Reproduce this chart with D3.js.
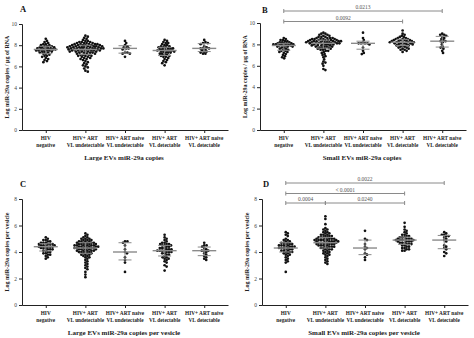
<!DOCTYPE html>
<html>
<head>
<meta charset="utf-8">
<script src="https://cdn.jsdelivr.net/npm/d3@7"></script>
<style>
  body { margin: 0; background: #fff; }
  svg { display: block; font-family: "Liberation Serif", "Times New Roman", serif; }
</style>
</head>
<body>
<svg id="chart" width="474" height="338"></svg>
<script>
// Patient groups (two-line category labels)
const groupLine1 = ["HIV", "HIV+ ART", "HIV+ ART naive", "HIV+ ART", "HIV+ ART naive"];
const groupLine2 = ["negative", "VL undetectable", "VL undetectable", "VL detectable", "VL detectable"];

// Log miR-29a copies / µg of RNA, large EVs (one list per group)
const largeEvCopies = [
  [8.6, 8.4, 8.3, 8.2, 8.1, 8.1, 8.0, 8.0, 7.9, 7.9, 7.9, 7.8, 7.8, 7.8, 7.7, 7.7, 7.7, 7.7, 7.6, 7.6, 7.6, 7.6, 7.5, 7.5, 7.5, 7.5, 7.4, 7.4, 7.4, 7.3, 7.3, 7.2, 7.2, 7.1, 7.0, 7.0, 6.9, 6.8, 6.7, 6.6, 6.5, 6.4],
  [8.9, 8.8, 8.7, 8.6, 8.5, 8.4, 8.4, 8.3, 8.3, 8.3, 8.2, 8.2, 8.2, 8.2, 8.1, 8.1, 8.1, 8.1, 8.1, 8.0, 8.0, 8.0, 8.0, 8.0, 8.0, 7.9, 7.9, 7.9, 7.9, 7.9, 7.9, 7.8, 7.8, 7.8, 7.8, 7.8, 7.8, 7.8, 7.7, 7.7, 7.7, 7.7, 7.7, 7.7, 7.7, 7.6, 7.6, 7.6, 7.6, 7.6, 7.6, 7.5, 7.5, 7.5, 7.5, 7.5, 7.5, 7.4, 7.4, 7.4, 7.4, 7.4, 7.3, 7.3, 7.3, 7.3, 7.2, 7.2, 7.2, 7.1, 7.1, 7.1, 7.0, 7.0, 7.0, 6.9, 6.9, 6.8, 6.8, 6.7, 6.7, 6.6, 6.5, 6.4, 6.3, 6.2, 6.1, 6.0, 5.9, 5.8, 5.6, 5.5],
  [8.4, 8.2, 8.0, 7.9, 7.8, 7.7, 7.7, 7.6, 7.3, 7.3, 7.2, 7.2, 6.9],
  [8.5, 8.4, 8.3, 8.2, 8.2, 8.1, 8.0, 8.0, 7.9, 7.9, 7.8, 7.8, 7.8, 7.7, 7.7, 7.7, 7.6, 7.6, 7.6, 7.5, 7.5, 7.5, 7.5, 7.4, 7.4, 7.4, 7.3, 7.3, 7.3, 7.2, 7.2, 7.1, 7.1, 7.0, 7.0, 6.9, 6.9, 6.8, 6.7, 6.6, 6.5, 6.4, 6.3, 6.1],
  [8.5, 8.3, 8.2, 8.2, 8.1, 7.9, 7.8, 7.7, 7.7, 7.7, 7.6, 7.5, 7.4, 7.4, 7.3, 7.2, 7.2]
];

// Log miR-29a copies / µg of RNA, small EVs
const smallEvCopies = [
  [8.6, 8.5, 8.4, 8.4, 8.3, 8.3, 8.2, 8.2, 8.2, 8.1, 8.1, 8.1, 8.1, 8.0, 8.0, 8.0, 8.0, 8.0, 7.9, 7.9, 7.9, 7.9, 7.8, 7.8, 7.8, 7.7, 7.7, 7.6, 7.6, 7.5, 7.5, 7.4, 7.4, 7.3, 7.3, 7.2, 7.1, 7.0, 6.9, 6.8, 6.7],
  [9.1, 9.0, 9.0, 8.9, 8.9, 8.8, 8.8, 8.7, 8.7, 8.7, 8.6, 8.6, 8.6, 8.6, 8.5, 8.5, 8.5, 8.5, 8.5, 8.4, 8.4, 8.4, 8.4, 8.4, 8.4, 8.3, 8.3, 8.3, 8.3, 8.3, 8.3, 8.3, 8.2, 8.2, 8.2, 8.2, 8.2, 8.2, 8.2, 8.1, 8.1, 8.1, 8.1, 8.1, 8.1, 8.0, 8.0, 8.0, 8.0, 8.0, 7.9, 7.9, 7.9, 7.9, 7.8, 7.8, 7.8, 7.8, 7.7, 7.7, 7.7, 7.6, 7.6, 7.6, 7.5, 7.5, 7.4, 7.4, 7.3, 7.2, 7.1, 7.0, 6.9, 6.8, 6.6, 6.4, 6.3, 6.2, 6.0, 5.7, 5.6],
  [9.1, 8.6, 8.4, 8.2, 8.1, 8.1, 8.1, 8.1, 8.0, 7.7, 7.4, 7.2, 7.1],
  [9.3, 9.0, 8.9, 8.8, 8.7, 8.7, 8.6, 8.6, 8.5, 8.5, 8.5, 8.4, 8.4, 8.4, 8.4, 8.3, 8.3, 8.3, 8.3, 8.2, 8.2, 8.2, 8.2, 8.2, 8.1, 8.1, 8.1, 8.1, 8.0, 8.0, 8.0, 7.9, 7.9, 7.9, 7.8, 7.8, 7.7, 7.7, 7.6, 7.6, 7.5, 7.5, 7.4, 7.3],
  [9.0, 8.9, 8.9, 8.8, 8.7, 8.6, 8.5, 8.4, 8.3, 8.3, 8.2, 8.0, 7.8, 7.7, 7.6, 7.4, 7.2]
];

// Log miR-29a copies per vesicle, large EVs
const largeEvPerVesicle = [
  [5.1, 5.0, 4.9, 4.9, 4.8, 4.8, 4.7, 4.7, 4.7, 4.6, 4.6, 4.6, 4.6, 4.5, 4.5, 4.5, 4.5, 4.4, 4.4, 4.4, 4.4, 4.3, 4.3, 4.3, 4.2, 4.2, 4.2, 4.1, 4.1, 4.0, 4.0, 3.9, 3.9, 3.8, 3.8, 3.7, 3.6, 3.5],
  [5.4, 5.3, 5.2, 5.1, 5.1, 5.0, 5.0, 5.0, 4.9, 4.9, 4.9, 4.8, 4.8, 4.8, 4.8, 4.7, 4.7, 4.7, 4.7, 4.7, 4.6, 4.6, 4.6, 4.6, 4.6, 4.5, 4.5, 4.5, 4.5, 4.5, 4.5, 4.4, 4.4, 4.4, 4.4, 4.4, 4.4, 4.3, 4.3, 4.3, 4.3, 4.3, 4.3, 4.2, 4.2, 4.2, 4.2, 4.2, 4.1, 4.1, 4.1, 4.1, 4.1, 4.0, 4.0, 4.0, 4.0, 3.9, 3.9, 3.9, 3.8, 3.8, 3.8, 3.7, 3.7, 3.6, 3.6, 3.5, 3.4, 3.3, 3.2, 3.1, 3.0, 2.9, 2.8, 2.7, 2.5, 2.3, 2.1],
  [4.8, 4.8, 4.7, 4.5, 4.2, 4.0, 3.9, 3.6, 3.4, 3.2, 2.5],
  [5.3, 5.1, 5.0, 4.9, 4.8, 4.7, 4.7, 4.6, 4.6, 4.6, 4.5, 4.5, 4.5, 4.4, 4.4, 4.3, 4.3, 4.3, 4.2, 4.2, 4.2, 4.1, 4.1, 4.1, 4.1, 4.0, 4.0, 4.0, 3.9, 3.9, 3.8, 3.8, 3.7, 3.6, 3.6, 3.5, 3.5, 3.4, 3.3, 3.2, 3.0, 2.9, 2.6],
  [4.7, 4.5, 4.5, 4.4, 4.3, 4.2, 4.1, 4.1, 4.1, 4.0, 3.9, 3.8, 3.7, 3.6, 3.5, 3.4]
];

// Log miR-29a copies per vesicle, small EVs
const smallEvPerVesicle = [
  [5.5, 5.4, 5.3, 5.2, 5.0, 4.9, 4.9, 4.8, 4.8, 4.7, 4.7, 4.7, 4.6, 4.6, 4.6, 4.5, 4.5, 4.5, 4.5, 4.4, 4.4, 4.4, 4.4, 4.3, 4.3, 4.3, 4.3, 4.2, 4.2, 4.2, 4.1, 4.1, 4.1, 4.0, 4.0, 4.0, 3.9, 3.9, 3.8, 3.8, 3.7, 3.6, 3.5, 3.4, 3.3, 3.2, 2.5],
  [6.7, 6.5, 6.1, 5.8, 5.7, 5.7, 5.6, 5.5, 5.5, 5.4, 5.4, 5.3, 5.3, 5.3, 5.2, 5.2, 5.2, 5.1, 5.1, 5.1, 5.1, 5.0, 5.0, 5.0, 5.0, 5.0, 4.9, 4.9, 4.9, 4.9, 4.9, 4.9, 4.8, 4.8, 4.8, 4.8, 4.8, 4.8, 4.7, 4.7, 4.7, 4.7, 4.7, 4.6, 4.6, 4.6, 4.6, 4.6, 4.5, 4.5, 4.5, 4.5, 4.4, 4.4, 4.4, 4.4, 4.3, 4.3, 4.3, 4.2, 4.2, 4.2, 4.1, 4.1, 4.0, 4.0, 3.9, 3.9, 3.8, 3.8, 3.7, 3.6, 3.5, 3.4, 3.3, 3.2, 3.1],
  [5.6, 5.0, 4.9, 4.6, 4.4, 4.3, 4.2, 3.9, 3.8, 3.6, 3.4],
  [6.2, 5.9, 5.7, 5.6, 5.5, 5.4, 5.3, 5.3, 5.2, 5.2, 5.1, 5.1, 5.1, 5.0, 5.0, 5.0, 5.0, 4.9, 4.9, 4.9, 4.9, 4.9, 4.8, 4.8, 4.8, 4.8, 4.7, 4.7, 4.7, 4.6, 4.6, 4.6, 4.5, 4.5, 4.4, 4.4, 4.3, 4.3, 4.2, 4.2, 4.1, 4.1],
  [5.5, 5.4, 5.3, 5.3, 5.2, 5.2, 5.1, 5.0, 4.9, 4.8, 4.5, 4.4, 4.3, 4.2, 4.0, 3.9, 3.7]
];

// Axis ticks
const ticksPerRNA = [0, 2, 4, 6, 8, 10];
const ticksPerVesicle = [0, 2, 4, 6, 8];

// Pairwise comparisons: [group a, group b, p value]
const smallCopiesComparisons = [[0, 4, "0.0213"], [0, 3, "0.0092"]];
const smallVesicleComparisons = [[0, 4, "0.0022"], [0, 3, "< 0.0001"], [0, 1, "0.0004"], [1, 3, "0.0240"]];

const panels = [
  { letter: "A", values: largeEvCopies, ticks: ticksPerRNA, yLabel: "Log miR-29a copies / µg of RNA",
    title: "Large EVs miR-29a copies", comparisons: [], bracketY: [],
    left: 22, top: 24, bottom: 130, letterX: 20, letterY: 12 },
  { letter: "B", values: smallEvCopies, ticks: ticksPerRNA, yLabel: "Log miR-29a copies / µg of RNA",
    title: "Small EVs miR-29a copies", comparisons: smallCopiesComparisons, bracketY: [11, 21.5],
    left: 260, top: 23, bottom: 130, letterX: 262, letterY: 13 },
  { letter: "C", values: largeEvPerVesicle, ticks: ticksPerVesicle, yLabel: "Log miR-29a copies per vesicle",
    title: "Large EVs miR-29a copies per vesicle", comparisons: [], bracketY: [],
    left: 22, top: 199, bottom: 305, letterX: 20, letterY: 187 },
  { letter: "D", values: smallEvPerVesicle, ticks: ticksPerVesicle, yLabel: "Log miR-29a copies per vesicle",
    title: "Small EVs miR-29a copies per vesicle", comparisons: smallVesicleComparisons, bracketY: [183, 193.5, 203, 203],
    left: 262, top: 199, bottom: 305, letterX: 263, letterY: 187 }
];

const svg = d3.select("#chart");
const axisWidth = 206;
const dotR = 1.35;

// quartile with (n+1)p positions, as used by common stats packages
function quartile(sortedAsc, p) {
  const n = sortedAsc.length;
  let pos = (n + 1) * p;
  pos = Math.max(1, Math.min(n, pos));
  const lo = Math.floor(pos), hi = Math.ceil(pos);
  return sortedAsc[lo - 1] + (pos - lo) * (sortedAsc[hi - 1] - sortedAsc[lo - 1]);
}

// simple beeswarm: nudge each dot sideways until it clears the ones already placed
function swarm(values, y) {
  const pts = values.map(v => ({ v, y: y(v) })).sort((a, b) => a.y - b.y);
  const placed = [];
  const d = dotR * 2 * 0.84;
  for (const p of pts) {
    let off = 0;
    for (let i = 0; i < 400; i++) {
      const cand = i === 0 ? 0 : (i % 2 ? 1 : -1) * Math.ceil(i / 2) * 0.4;
      if (placed.every(q => (q.x - cand) ** 2 + (q.y - p.y) ** 2 >= d * d)) { off = cand; break; }
    }
    p.dx = off;
    placed.push({ x: off, y: p.y });
  }
  return pts;
}

panels.forEach(pn => {
  const g = svg.append("g");
  const yMax = d3.max(pn.ticks);
  const y = d3.scaleLinear().domain([0, yMax]).range([pn.bottom, pn.top]);
  const x = d3.scalePoint().domain(d3.range(5)).range([pn.left, pn.left + axisWidth]).padding(0.6);

  // y axis
  const yAxis = g.append("g").attr("transform", `translate(${pn.left},0)`)
    .call(d3.axisLeft(y).tickValues(pn.ticks).tickSize(3).tickPadding(2).tickFormat(d3.format("d")));
  yAxis.select(".domain").attr("stroke", "#222").attr("stroke-width", 1);
  yAxis.selectAll(".tick line").attr("stroke", "#222");
  yAxis.selectAll("text").attr("font-size", 5.5).attr("fill", "#444").attr("font-family", "Liberation Serif, serif");

  // x axis
  const xAxis = g.append("g").attr("transform", `translate(0,${pn.bottom})`)
    .call(d3.axisBottom(x).tickSize(3).tickSizeOuter(0).tickFormat(""));
  xAxis.select(".domain").attr("stroke", "#222").attr("stroke-width", 1);
  xAxis.selectAll(".tick line").attr("stroke", "#222");

  // category labels
  d3.range(5).forEach(i => {
    const t = g.append("text").attr("x", x(i)).attr("text-anchor", "middle")
      .attr("font-size", 5.3).attr("font-weight", "bold").attr("fill", "#222");
    t.append("tspan").attr("x", x(i)).attr("y", pn.bottom + 9.5).text(groupLine1[i]);
    t.append("tspan").attr("x", x(i)).attr("y", pn.bottom + 16.5).text(groupLine2[i]);
  });

  // panel title
  g.append("text").attr("x", pn.left + axisWidth / 2 - 1).attr("y", pn.bottom + 29.5)
    .attr("text-anchor", "middle").attr("font-size", 7).attr("font-weight", "bold").attr("fill", "#222")
    .text(pn.title);

  // y label
  g.append("text").attr("transform", `translate(${pn.left - 13},${(pn.top + pn.bottom) / 2}) rotate(-90)`)
    .attr("text-anchor", "middle").attr("font-size", 6).attr("font-weight", "bold").attr("fill", "#222")
    .text(pn.yLabel);

  // panel letter
  g.append("text").attr("x", pn.letterX).attr("y", pn.letterY)
    .attr("font-size", 8.5).attr("font-weight", "bold").attr("fill", "#111").text(pn.letter);

  // dots
  pn.values.forEach((vals, i) => {
    const pts = swarm(vals, y);
    g.append("g").selectAll("circle").data(pts).join("circle")
      .attr("cx", d => x(i) + d.dx).attr("cy", d => d.y).attr("r", dotR).attr("fill", "#111");

    // median with interquartile range
    const s = vals.slice().sort(d3.ascending);
    const med = quartile(s, 0.5), q1 = quartile(s, 0.25), q3 = quartile(s, 0.75);
    const lg = g.append("g").attr("stroke", "#8a8a8a");
    lg.append("line").attr("x1", x(i) - 12).attr("x2", x(i) + 12).attr("y1", y(med)).attr("y2", y(med)).attr("stroke-width", 1.4);
    lg.append("line").attr("x1", x(i) - 6.5).attr("x2", x(i) + 6.5).attr("y1", y(q1)).attr("y2", y(q1)).attr("stroke-width", 1);
    lg.append("line").attr("x1", x(i) - 6.5).attr("x2", x(i) + 6.5).attr("y1", y(q3)).attr("y2", y(q3)).attr("stroke-width", 1);
    lg.append("line").attr("x1", x(i)).attr("x2", x(i)).attr("y1", y(q1)).attr("y2", y(q3)).attr("stroke-width", 1);
  });

  // significance brackets
  pn.comparisons.forEach((c, k) => {
    const by = pn.bracketY[k];
    const xa = x(c[0]), xb = x(c[1]);
    const bg = g.append("g").attr("stroke", "#8a8a8a").attr("stroke-width", 1);
    bg.append("line").attr("x1", xa).attr("x2", xb).attr("y1", by).attr("y2", by);
    bg.append("line").attr("x1", xa).attr("x2", xa).attr("y1", by - 2).attr("y2", by + 2);
    bg.append("line").attr("x1", xb).attr("x2", xb).attr("y1", by - 2).attr("y2", by + 2);
    g.append("text").attr("x", (xa + xb) / 2).attr("y", by - 1.8).attr("text-anchor", "middle")
      .attr("font-size", 5.5).attr("fill", "#555").text(c[2]);
  });
});
</script>
</body>
</html>
